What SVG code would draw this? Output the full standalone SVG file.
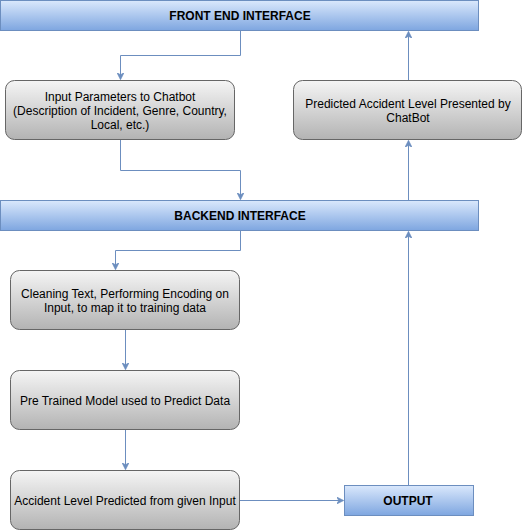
<svg xmlns="http://www.w3.org/2000/svg" width="525" height="531" viewBox="0 0 525 531">
<defs>
<linearGradient id="gBlue" x1="0" y1="0" x2="0" y2="1"><stop offset="0" stop-color="#dae8fc"/><stop offset="1" stop-color="#7ea6e0"/></linearGradient>
<linearGradient id="gGray" x1="0" y1="0" x2="0" y2="1"><stop offset="0" stop-color="#f5f5f5"/><stop offset="1" stop-color="#b3b3b3"/></linearGradient>
<marker id="arr" viewBox="0 0 10 10" refX="9" refY="5" markerWidth="7" markerHeight="7" orient="auto" markerUnits="userSpaceOnUse"><path d="M0,0 L10,5 L0,10 L3,5 Z" fill="#6c8ebf" stroke="#6c8ebf"/></marker>
<style>
.blue{fill:url(#gBlue);stroke:#6c8ebf;stroke-width:1}
.gray{fill:url(#gGray);stroke:#666666;stroke-width:1}
.t{font-family:"Liberation Sans",Arial,sans-serif;font-size:12px;fill:#000;text-anchor:middle}
.b{font-weight:bold}
.c{fill:none;stroke:#6c8ebf;stroke-width:1;marker-end:url(#arr)}
</style>
</defs>
<rect width="525" height="531" fill="#ffffff"/>
<g id="connectors">
<path class="c" d="M240.5,31 V55.5 H120.5 V79"/>
<path class="c" d="M120.5,140 V170.5 H240.5 V199"/>
<path class="c" d="M408.5,200 V141"/>
<path class="c" d="M408.5,80 V32"/>
<path class="c" d="M240.5,231 V250.5 H115.5 V269"/>
<path class="c" d="M125.5,330 V369"/>
<path class="c" d="M125.5,430 V469"/>
<path class="c" d="M240,500.5 H343"/>
<path class="c" d="M408.5,485 V232"/>
</g>
<g id="frontend">
<rect class="blue" x="0.5" y="0.5" width="478" height="30"/>
<text class="t b" x="240" y="20">FRONT END INTERFACE</text>
</g>
<g id="input">
<rect class="gray" x="5.5" y="80.5" width="229" height="59" rx="9"/>
<text class="t" x="120" y="101">Input Parameters to Chatbot</text>
<text class="t" x="120" y="115">(Description of Incident, Genre, Country,</text>
<text class="t" x="120" y="129">Local, etc.)</text>
</g>
<g id="predicted">
<rect class="gray" x="293.5" y="80.5" width="228" height="59" rx="9"/>
<text class="t" x="408" y="108">Predicted Accident Level Presented by</text>
<text class="t" x="408" y="122">ChatBot</text>
</g>
<g id="backend">
<rect class="blue" x="0.5" y="200.5" width="478" height="30"/>
<text class="t b" x="240" y="220">BACKEND INTERFACE</text>
</g>
<g id="cleaning">
<rect class="gray" x="10.5" y="270.5" width="229" height="59" rx="9"/>
<text class="t" x="125" y="298">Cleaning Text, Performing Encoding on</text>
<text class="t" x="125" y="312">Input, to map it to training data</text>
</g>
<g id="pretrained">
<rect class="gray" x="10.5" y="370.5" width="229" height="59" rx="9"/>
<text class="t" x="125" y="405">Pre Trained Model used to Predict Data</text>
</g>
<g id="accident">
<rect class="gray" x="10.5" y="470.5" width="229" height="59" rx="9"/>
<text class="t" x="125" y="505">Accident Level Predicted from given Input</text>
</g>
<g id="output">
<rect class="blue" x="344.5" y="485.5" width="129" height="30"/>
<text class="t b" x="408" y="505">OUTPUT</text>
</g>
</svg>
